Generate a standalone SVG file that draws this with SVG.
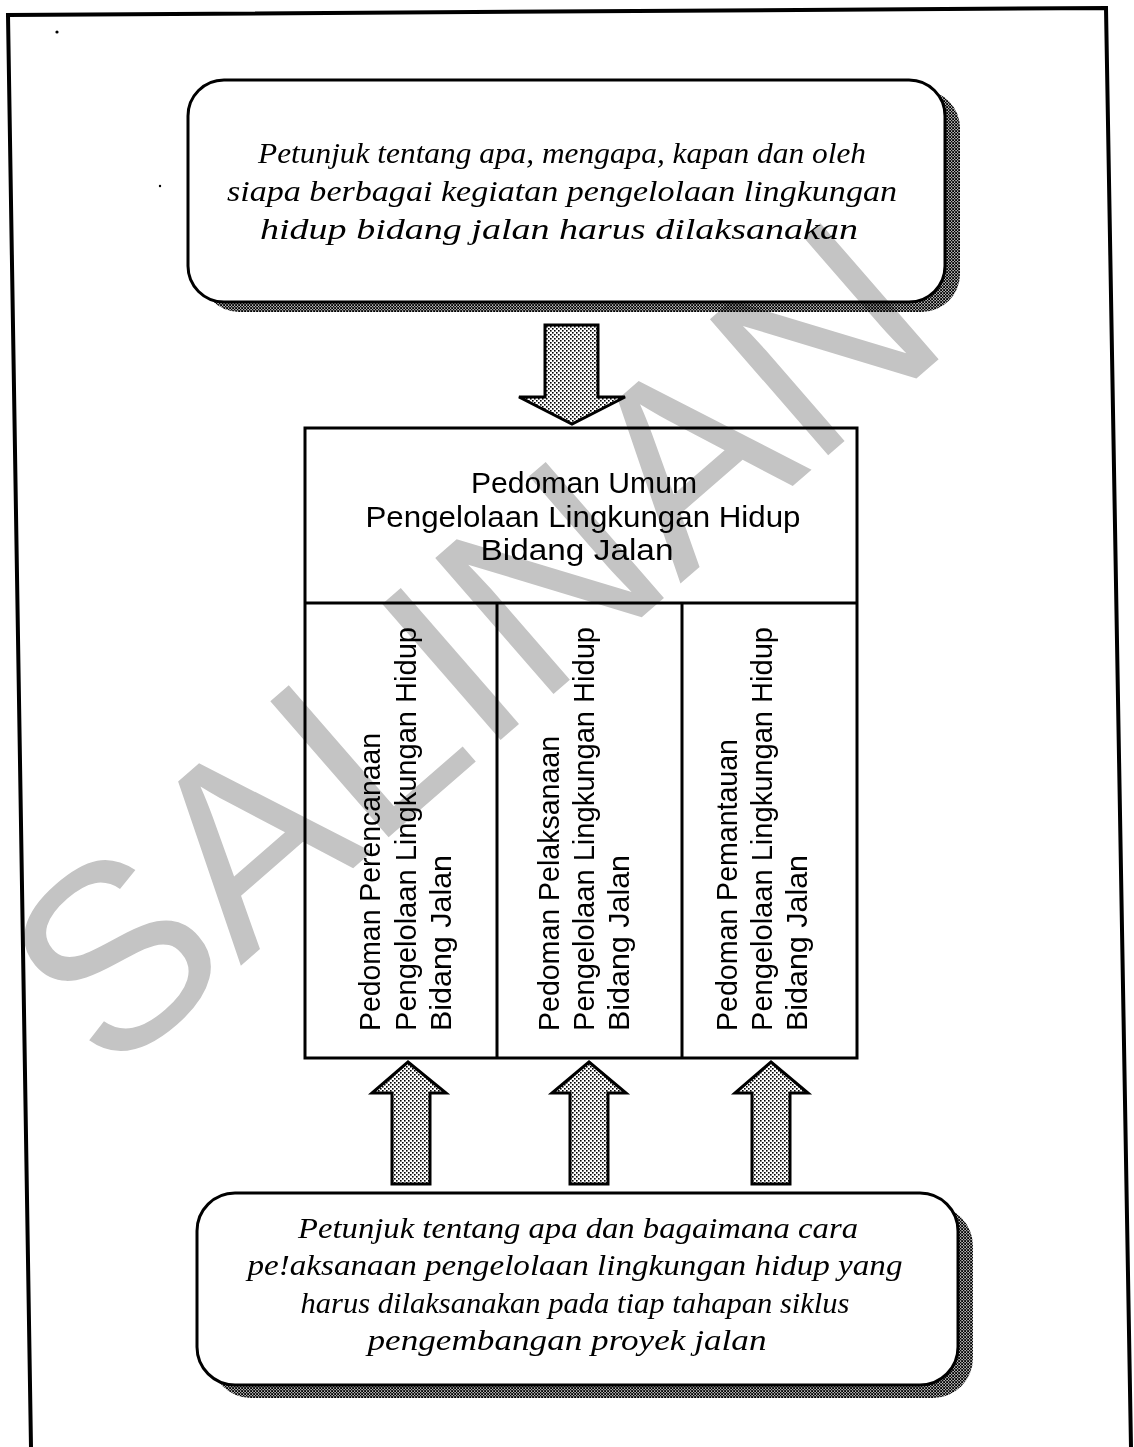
<svg xmlns="http://www.w3.org/2000/svg" width="1134" height="1447" viewBox="0 0 1134 1447">
<defs>
<pattern id="stip" width="4" height="4" patternUnits="userSpaceOnUse">
<rect width="4" height="4" fill="#fff"/>
<rect x="0" y="0" width="1.6" height="1.6" fill="#000"/>
<rect x="2" y="2" width="1.6" height="1.6" fill="#000"/>
</pattern>
<pattern id="shade" width="3" height="3" patternUnits="userSpaceOnUse">
<rect width="3" height="3" fill="#000"/>
<rect x="0" y="1.5" width="1.2" height="1.2" fill="#fff"/>
<rect x="1.5" y="0" width="1.2" height="1.2" fill="#fff"/>
</pattern>
<style>
.box{fill:#fff;stroke:#000;stroke-width:3}
.shadow{fill:url(#shade);stroke:none}
.it{font-family:"Liberation Serif","Times New Roman",serif;font-style:italic;font-size:30px;fill:#000;text-anchor:middle}
.sans{font-family:"Liberation Sans",Arial,sans-serif;font-size:30px;fill:#000}
.mid{text-anchor:middle}
.line{fill:none;stroke:#000;stroke-width:3}
.arrow{fill:url(#stip);stroke:#000;stroke-width:3;stroke-linejoin:miter}
.wm{font-family:"Liberation Sans",Arial,sans-serif;font-size:262px;fill:#c4c4c4;text-anchor:middle}
</style>
</defs>
<rect width="1134" height="1447" fill="#fff"/>
<g id="frame">
<polyline points="31,1447 8,15 1106,8 1131,1447" fill="none" stroke="#000" stroke-width="4"/>
<circle cx="57" cy="32" r="1.6" fill="#000"/>
<circle cx="160" cy="186" r="1.2" fill="#000"/>
<circle cx="833" cy="1345" r="1.2" fill="#000"/>
</g>
<g id="top-box">
<rect class="shadow" x="201" y="90" width="759" height="222" rx="38"/>
<rect class="box" x="188" y="80" width="757" height="222" rx="36"/>
<text class="it" x="562" y="163" textLength="608" lengthAdjust="spacingAndGlyphs">Petunjuk tentang apa, mengapa, kapan dan oleh</text>
<text class="it" x="562" y="201" textLength="670" lengthAdjust="spacingAndGlyphs">siapa berbagai kegiatan pengelolaan lingkungan</text>
<text class="it" x="559" y="239" textLength="598" lengthAdjust="spacingAndGlyphs">hidup bidang jalan harus dilaksanakan</text>
</g>
<g id="bottom-box">
<rect class="shadow" x="211" y="1206" width="762" height="192" rx="40"/>
<rect class="box" x="197" y="1193" width="761" height="192" rx="38"/>
<text class="it" x="578" y="1238" textLength="560" lengthAdjust="spacingAndGlyphs">Petunjuk tentang apa dan bagaimana cara</text>
<text class="it" x="575" y="1275" textLength="655" lengthAdjust="spacingAndGlyphs">pe!aksanaan pengelolaan lingkungan hidup yang</text>
<text class="it" x="575" y="1313" textLength="549" lengthAdjust="spacingAndGlyphs">harus dilaksanakan pada tiap tahapan siklus</text>
<text class="it" x="567" y="1350" textLength="399" lengthAdjust="spacingAndGlyphs">pengembangan proyek jalan</text>
</g>
<g id="table">
<rect class="line" x="305" y="428" width="552" height="630"/>
<line class="line" x1="305" y1="603" x2="857" y2="603"/>
<line class="line" x1="497" y1="603" x2="497" y2="1058"/>
<line class="line" x1="682" y1="603" x2="682" y2="1058"/>
</g>
<g id="pedoman-umum">
<text class="sans mid" x="584" y="493" textLength="226" lengthAdjust="spacingAndGlyphs">Pedoman Umum</text>
<text class="sans mid" x="583" y="527" textLength="435" lengthAdjust="spacingAndGlyphs">Pengelolaan Lingkungan Hidup</text>
<text class="sans mid" x="577" y="560" textLength="193" lengthAdjust="spacingAndGlyphs">Bidang Jalan</text>
</g>
<g id="pedoman-perencanaan">
<text class="sans" transform="translate(380,1031) rotate(-90)" textLength="298" lengthAdjust="spacingAndGlyphs" style="font-size:29px">Pedoman Perencanaan</text>
<text class="sans" transform="translate(416,1031) rotate(-90)" textLength="404" lengthAdjust="spacingAndGlyphs" style="font-size:29px">Pengelolaan Lingkungan Hidup</text>
<text class="sans" transform="translate(451,1031) rotate(-90)" textLength="176" lengthAdjust="spacingAndGlyphs" style="font-size:29px">Bidang Jalan</text>
</g>
<g id="pedoman-pelaksanaan">
<text class="sans" transform="translate(559,1031) rotate(-90)" textLength="295" lengthAdjust="spacingAndGlyphs" style="font-size:29px">Pedoman Pelaksanaan</text>
<text class="sans" transform="translate(594,1031) rotate(-90)" textLength="404" lengthAdjust="spacingAndGlyphs" style="font-size:29px">Pengelolaan Lingkungan Hidup</text>
<text class="sans" transform="translate(629,1031) rotate(-90)" textLength="176" lengthAdjust="spacingAndGlyphs" style="font-size:29px">Bidang Jalan</text>
</g>
<g id="pedoman-pemantauan">
<text class="sans" transform="translate(737,1031) rotate(-90)" textLength="292" lengthAdjust="spacingAndGlyphs" style="font-size:29px">Pedoman Pemantauan</text>
<text class="sans" transform="translate(772,1031) rotate(-90)" textLength="404" lengthAdjust="spacingAndGlyphs" style="font-size:29px">Pengelolaan Lingkungan Hidup</text>
<text class="sans" transform="translate(807,1031) rotate(-90)" textLength="176" lengthAdjust="spacingAndGlyphs" style="font-size:29px">Bidang Jalan</text>
</g>
<g id="connectors">
<polygon class="arrow" points="545,325 598,325 598,397 625,397 572,424 519,397 545,397"/>
<polygon class="arrow" points="408,1062 446,1093 430,1093 430,1184 392,1184 392,1093 372,1093"/>
<polygon class="arrow" points="589,1062 626,1093 608,1093 608,1184 570,1184 570,1093 552,1093"/>
<polygon class="arrow" points="771,1062 808,1093 790,1093 790,1184 752,1184 752,1093 735,1093"/>
</g>
<g id="watermark" style="mix-blend-mode:multiply">
<text class="wm" transform="translate(470,642) rotate(-41)" x="0" y="94">SALINAN</text>
</g>
</svg>
